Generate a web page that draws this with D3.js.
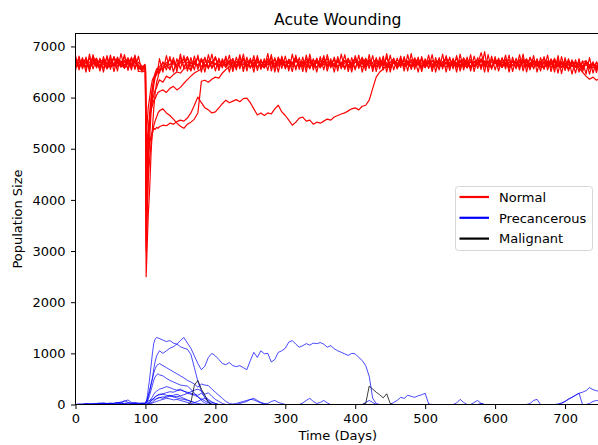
<!DOCTYPE html>
<html lang="en">
<head>
<meta charset="utf-8">
<title>Acute Wounding</title>
<script src="https://d3js.org/d3.v7.min.js"></script>
<style>
  body { margin: 0; background: #fff; }
  text { font-family: "DejaVu Sans", sans-serif; fill: #000; }
</style>
</head>
<body>
<script>
// sample days shared by every run (denser around the wound at day 100)
var days = [].concat(d3.range(0, 100, 5),
    [99, 100, 101, 102, 103, 104, 106, 108, 110, 112, 114, 116, 118],
    d3.range(120, 751, 5));

var xTicks = [0, 100, 200, 300, 400, 500, 600, 700];
var yTicks = [0, 1000, 2000, 3000, 4000, 5000, 6000, 7000];
var legendLabels = ["Normal", "Precancerous", "Malignant"];

// ---- Normal cells, one array per run
var normal1 = [
  6700,6620,6760,6580,6690,6750,6600,6710,6640,6780,6590,6680,6730,6610,6700,6650,6770,6600,6690,6620,
  6580,6560,2500,2900,3300,3700,4200,4900,5400,5800,6100,6300,6400,
  6560,6610,6690,6640,6720,6600,6680,6750,6620,6700,
  6650,6780,6600,6690,6730,6580,6660,6710,6620,6760,
  6640,6700,6590,6680,6740,6610,6690,6650,6770,6600,
  6710,6640,6690,6580,6730,6660,6620,6750,6680,6600,
  6700,6650,6760,6610,6680,6590,6720,6640,6700,6660,
  6740,6600,6680,6720,6630,6690,6580,6710,6650,6770,
  6620,6690,6740,6600,6700,6650,6580,6720,6680,6630,
  6760,6640,6700,6610,6690,6730,6600,6670,6720,6640,
  6580,6700,6650,6760,6620,6690,6710,6600,6680,6740,
  6630,6690,6600,6720,6660,6580,6700,6650,6760,6620,
  6680,6710,6600,6690,6740,6630,6670,6590,6720,6650,
  6700,6610,6680,6750,6620,6690,6640,6580,6710,6660,
  6600,6690,6720,6630,6680,6560,6640];

var normal2 = [
  6640,6760,6590,6700,6620,6800,6680,6560,6730,6650,6700,6610,6790,6640,6580,6720,6660,6810,6570,6540,
  6620,6600,3800,4200,4600,5000,5500,5900,6150,6350,6420,6500,6580,
  6600,6680,6630,6750,6660,6590,6720,6680,6800,6610,
  6690,6620,6740,6650,6580,6700,6760,6640,6690,6590,
  6720,6650,6610,6780,6680,6600,6730,6590,6680,6710,
  6640,6760,6600,6680,6620,6740,6700,6590,6650,6790,
  6610,6700,6640,6580,6730,6680,6620,6770,6600,6690,
  6650,6720,6590,6680,6760,6610,6700,6650,6600,6690,
  6730,6580,6660,6710,6620,6790,6640,6690,6600,6750,
  6650,6700,6580,6740,6630,6680,6590,6720,6660,6610,
  6700,6640,6780,6600,6690,6650,6730,6620,6690,6580,
  6710,6650,6740,6600,6690,6620,6700,6660,6590,6740,
  6630,6700,6660,6600,6680,6720,6590,6690,6650,6610,
  6580,6690,6640,6720,6600,6660,6570,6700,6620,6680,
  6640,6590,6700,6560,6650,6610,6680];

var normal3 = [
  6720,6600,6680,6740,6560,6690,6770,6620,6700,6580,6750,6640,6690,6720,6600,6780,6650,6700,6610,6580,
  6590,6570,4400,4700,5000,5300,5600,5800,5950,6050,6150,6200,6280,
  6350,6300,6420,6380,6450,6500,6480,6560,6600,6540,
  6680,6620,6750,6600,6700,6660,6790,6610,6690,6640,
  6720,6580,6700,6650,6760,6620,6680,6740,6600,6700,
  6630,6690,6780,6610,6670,6720,6590,6690,6650,6740,
  6600,6700,6640,6760,6620,6690,6580,6710,6680,6630,
  6750,6600,6690,6720,6640,6580,6700,6660,6790,6620,
  6680,6610,6730,6650,6700,6590,6690,6760,6620,6680,
  6710,6640,6600,6690,6750,6620,6680,6590,6720,6660,
  6630,6700,6760,6610,6680,6650,6590,6740,6690,6620,
  6700,6650,6880,6620,6720,6600,6690,6740,6640,6680,
  6590,6720,6660,6610,6700,6750,6620,6680,6640,6700,
  6760,6630,6690,6580,6700,6660,6620,6730,6600,6680,
  6640,6560,6700,6610,6660,6580,6690];

var normal4 = [
  6610,6700,6650,6770,6590,6680,6620,6740,6700,6560,6660,6790,6610,6700,6650,6580,6730,6690,6620,6560,
  6650,6620,4800,5000,5200,5400,5600,5750,5850,5950,5980,6050,6100,
  6120,6150,6100,6180,6220,6150,6200,6280,6350,6420,
  6480,6520,6560,6640,6600,6700,6660,6590,6720,6640,
  6690,6610,6700,6620,6760,6650,6600,6690,6730,6640,
  6580,6700,6660,6750,6620,6690,6600,6710,6650,6780,
  6630,6680,6590,6700,6640,6720,6610,6690,6760,6600,
  6670,6710,6640,6580,6700,6680,6750,6620,6690,6600,
  6730,6660,6610,6720,6650,6690,6580,6700,6640,6770,
  6620,6680,6700,6600,6690,6740,6630,6670,6590,6710,
  6650,6690,6760,6620,6680,6600,6700,6650,6720,6590,
  6690,6640,6710,6660,6600,6740,6680,6620,6700,6650,
  6580,6720,6690,6640,6760,6600,6680,6710,6630,6690,
  6580,6700,6650,6720,6610,6690,6640,6560,6680,6620,
  6700,6580,6640,6600,6670,6550,6620];

var normal5 = [
  6680,6740,6620,6700,6590,6760,6650,6600,6720,6680,6610,6790,6660,6700,6580,6740,6630,6690,6570,6600,
  6620,6590,4300,4500,4700,4900,5100,5250,5350,5450,5550,5620,5700,
  5740,5780,5700,5650,5580,5500,5440,5400,5480,5520,
  5580,5700,6320,6340,6300,6360,6400,6380,6480,6550,
  6600,6690,6640,6720,6580,6680,6740,6620,6700,6650,
  6590,6720,6660,6610,6780,6640,6700,6600,6690,6730,
  6650,6600,6710,6680,6620,6760,6590,6700,6640,6690,
  6620,6750,6660,6600,6700,6640,6780,6610,6690,6650,
  6720,6600,6680,6640,6750,6620,6690,6710,6580,6660,
  6640,6700,6620,6780,6650,6600,6690,6730,6640,6700,
  6680,6610,6700,6650,6740,6600,6720,6660,6580,6700,
  6620,6690,6750,6640,6600,6700,6660,6720,6590,6680,
  6740,6630,6690,6600,6710,6650,6580,6720,6680,6640,
  6600,6700,6660,6620,6740,6590,6680,6630,6690,6610,
  6580,6500,6420,6360,6400,6340,6380];

var normal6 = [
  6660,6590,6720,6680,6610,6750,6640,6700,6580,6690,6760,6620,6680,6600,6730,6650,6590,6710,6640,6550,
  6640,6610,3200,3600,4000,4400,4800,5100,5300,5400,5380,5420,5400,
  5430,5460,5450,5500,5480,5530,5560,5540,5600,5700,
  5850,6010,5900,5800,5760,5700,5720,5800,5880,5950,
  5900,5930,5960,5920,5980,5990,5900,5780,5660,5700,
  5650,5700,5680,5780,5850,5720,5650,5560,5460,5520,
  5600,5620,5540,5560,5480,5520,5500,5540,5580,5560,
  5620,5650,5680,5700,5740,5780,5800,5760,5830,5850,
  5950,6180,6400,6500,6560,6620,6580,6680,6620,6700,
  6650,6720,6600,6690,6640,6760,6620,6700,6580,6680,
  6740,6640,6690,6600,6710,6660,6620,6780,6650,6700,
  6600,6680,6730,6640,6700,6590,6760,6620,6690,6650,
  6700,6620,6680,6740,6600,6690,6650,6720,6610,6700,
  6650,6720,6590,6690,6640,6700,6620,6560,6680,6610,
  6650,6600,6690,6580,6640,6620,6560];

var normal7 = [
  6590,6680,6720,6600,6770,6650,6700,6620,6740,6580,6690,6650,6720,6600,6800,6670,6620,6750,6560,6600,
  6560,6540,5200,5400,5600,5800,6000,6200,6350,6400,6480,6560,6580,
  6520,6580,6620,6560,6700,6640,6780,6600,6690,6660,
  6720,6630,6700,6760,6600,6680,6650,6730,6620,6700,
  6680,6760,6610,6700,6640,6720,6590,6690,6750,6620,
  6700,6640,6720,6600,6690,6750,6630,6680,6600,6710,
  6660,6620,6690,6740,6600,6700,6650,6780,6620,6680,
  6600,6700,6650,6720,6590,6690,6760,6640,6700,6620,
  6740,6660,6600,6700,6640,6780,6620,6690,6650,6720,
  6600,6690,6740,6640,6700,6580,6720,6660,6610,6690,
  6720,6640,6600,6690,6650,6760,6620,6700,6640,6590,
  6680,6740,6620,6700,6650,6610,6720,6690,6600,6750,
  6640,6700,6580,6720,6660,6620,6780,6640,6690,6600,
  6700,6650,6740,6620,6680,6600,6720,6650,6700,6590,
  6660,6620,6700,6640,6580,6680,6620];

var normal8 = [
  6820,6540,6780,6500,6850,6560,6760,6520,6800,6580,6830,6510,6770,6600,6840,6530,6790,6550,6810,6500,
  6520,6500,3000,3500,4000,4600,5200,5700,6000,6250,6400,6450,6520,
  6480,6700,6540,6800,6500,6760,6560,6820,6520,6780,
  6540,6830,6500,6790,6560,6850,6520,6770,6580,6810,
  6500,6760,6540,6840,6510,6790,6570,6820,6530,6750,
  6580,6860,6520,6780,6500,6810,6560,6740,6510,6830,
  6550,6790,6500,6850,6540,6770,6590,6820,6520,6760,
  6500,6800,6560,6840,6510,6780,6540,6830,6500,6750,
  6570,6820,6510,6790,6540,6860,6500,6770,6560,6810,
  6520,6840,6550,6760,6500,6800,6580,6830,6510,6780,
  6540,6850,6500,6790,6560,6820,6520,6760,6580,6840,
  6510,6780,6550,6900,6500,6810,6540,6770,6590,6830,
  6500,6790,6560,6840,6520,6760,6540,6820,6500,6780,
  6550,6830,6510,6770,6480,6800,6530,6760,6460,6740,
  6500,6720,6460,6780,6480,6700,6520];

var normal9 = [
  6530,6810,6560,6790,6510,6840,6580,6770,6500,6820,6550,6800,6520,6860,6570,6760,6540,6830,6510,6520,
  6560,6530,4000,4400,4800,5200,5700,6000,6200,6350,6450,6480,6560,
  6760,6500,6820,6540,6780,6510,6850,6560,6790,6520,
  6810,6550,6770,6500,6840,6570,6800,6530,6760,6590,
  6830,6510,6790,6560,6850,6520,6770,6500,6820,6550,
  6760,6530,6840,6500,6790,6570,6810,6520,6850,6540,
  6780,6510,6830,6560,6760,6500,6800,6540,6840,6580,
  6790,6520,6850,6550,6770,6500,6820,6570,6760,6530,
  6840,6510,6780,6560,6810,6500,6830,6540,6770,6590,
  6800,6520,6860,6550,6790,6510,6760,6570,6840,6500,
  6780,6560,6820,6530,6770,6500,6850,6540,6790,6520,
  6810,6570,6760,6500,6840,6550,6800,6520,6780,6560,
  6830,6510,6770,6540,6850,6500,6790,6560,6760,6520,
  6800,6540,6760,6500,6820,6470,6780,6520,6740,6480,
  6760,6500,6720,6460,6700,6490,6740];

// ---- Precancerous cells
var precancerous1 = [
  0,0,5,10,0,15,20,10,30,20,15,25,40,30,20,35,25,40,30,20,
  30,40,60,90,130,180,280,400,520,700,850,950,1000,
  1050,1000,1050,1100,1130,1180,1250,1310,1200,1100,
  950,800,680,750,920,1000,950,880,800,780,
  820,760,740,760,720,680,860,1020,920,1050,
  990,1000,830,880,1020,1050,1100,1220,1250,1180,
  1120,1150,1190,1160,1200,1190,1210,1180,1120,1150,
  1090,1050,1020,990,960,1000,990,920,860,760,
  550,120,20,0,0,0,0,0,0,0,
  0,0,0,0,0,0,0,0,0,0,
  0,0,0,0,0,0,0,0,0,0,
  0,0,0,0,0,0,0,0,0,0,
  0,0,0,0,0,0,0,0,0,0,
  0,0,0,0,0,0,0,0,0,0,
  0,0,0,0,0,0,0];

var precancerous2 = [
  0,0,0,10,5,0,0,15,0,10,20,0,10,0,20,15,0,25,10,30,
  20,30,50,100,180,300,500,750,1000,1200,1280,1310,1300,
  1290,1260,1230,1250,1200,1180,1130,1100,1080,980,
  720,450,260,130,50,10,0,0,0,0,
  0,0,0,0,0,0,0,0,0,0,
  0,0,0,0,0,0,0,0,0,0,
  0,0,0,0,0,0,0,0,0,0,
  0,0,0,0,0,0,0,0,0,0,
  0,0,0,0,0,0,0,0,0,0,
  0,0,0,0,0,0,0,0,0,0,
  0,0,0,0,0,0,0,0,0,0,
  0,0,0,0,0,0,0,0,0,0,
  0,0,0,0,0,0,0,0,0,0,
  0,0,0,0,0,0,0,0,0,0,
  0,0,0,0,0,0,0];

var precancerous3 = [
  0,10,0,0,15,0,5,0,20,10,0,0,15,30,10,0,20,0,10,15,
  10,20,30,50,90,150,250,380,500,620,700,760,780,
  800,760,720,680,640,600,560,520,470,440,
  400,340,400,380,370,300,240,180,120,60,
  20,0,0,0,0,0,0,0,0,0,
  0,0,0,0,0,0,0,0,0,0,
  0,0,0,0,0,0,0,0,0,0,
  0,0,0,0,0,0,0,0,0,0,
  0,0,0,0,0,0,0,0,0,0,
  0,0,0,0,0,0,0,0,0,0,
  0,0,0,0,0,0,0,0,0,0,
  0,0,0,0,0,0,0,0,0,0,
  0,0,0,0,0,0,0,0,0,0,
  0,0,0,0,0,0,0,0,0,0,
  0,0,0,0,0,0,0];

var precancerous4 = [
  0,0,0,0,0,5,0,0,10,0,0,0,0,10,0,0,0,5,0,0,
  0,10,20,30,60,100,180,280,380,480,540,580,600,
  580,560,510,470,440,410,380,370,360,300,
  220,150,80,30,0,0,0,0,0,0,
  0,0,0,0,0,0,0,0,0,0,
  0,0,0,0,0,0,0,0,0,0,
  0,0,0,0,0,0,0,0,0,0,
  0,0,0,0,0,0,0,0,0,0,
  0,0,0,0,0,0,0,0,0,0,
  0,0,0,0,0,0,0,0,0,0,
  0,0,0,0,0,0,0,0,0,0,
  0,0,0,0,0,0,0,0,0,0,
  0,0,0,0,0,0,0,0,0,0,
  0,0,0,0,0,0,0,0,0,0,
  0,0,0,0,0,0,0];

var precancerous5 = [
  0,0,0,0,0,0,0,0,0,0,0,0,0,0,0,0,0,0,0,0,
  0,0,5,10,20,40,70,110,150,200,240,260,280,
  300,320,350,330,300,280,300,260,240,220,
  200,180,220,160,100,50,20,0,0,0,
  0,10,20,40,60,80,100,90,60,30,
  10,0,0,0,0,0,0,0,0,0,
  0,0,0,0,0,0,0,0,0,0,
  0,0,0,0,0,0,0,0,0,0,
  0,0,0,0,0,0,0,0,0,0,
  0,0,0,0,0,0,0,0,0,0,
  0,0,0,0,0,0,0,0,0,0,
  0,0,0,0,0,0,0,0,0,0,
  0,0,0,0,0,0,0,0,0,0,
  0,0,0,0,0,0,0,0,0,0,
  0,0,0,0,0,0,0];

var precancerous6 = [
  0,0,0,0,0,0,0,0,0,0,0,0,0,0,0,0,0,0,0,0,
  0,0,0,5,10,20,40,60,90,120,150,170,190,
  200,210,230,250,240,270,280,260,220,200,
  180,150,110,70,30,0,0,0,0,0,
  0,0,0,0,0,0,0,0,0,0,
  0,0,0,0,0,0,0,0,0,0,
  0,0,0,0,0,0,0,0,0,0,
  0,0,0,0,0,0,0,0,0,0,
  0,0,0,0,0,0,0,40,80,140,
  120,180,160,140,170,190,220,10,0,0,
  0,0,0,0,0,0,0,0,0,0,
  0,0,0,0,0,0,0,0,0,0,
  0,0,0,0,0,0,0,0,0,0,
  0,0,0,0,0,0,0,0,0,0,
  0,0,0,0,0,0,0];

var precancerous7 = [
  0,0,0,0,0,5,10,15,10,20,30,20,40,20,80,40,20,10,5,0,
  0,0,0,5,10,20,40,70,100,130,150,170,180,
  190,200,180,170,150,160,150,120,90,60,
  40,20,10,0,0,0,0,0,0,0,
  0,0,0,0,0,0,0,0,0,0,
  0,20,60,80,40,20,0,0,0,0,
  0,30,80,120,60,20,40,80,30,0,
  0,0,0,0,0,0,0,0,0,0,
  0,0,0,0,0,0,0,0,0,0,
  0,0,0,0,0,0,0,0,0,0,
  0,0,0,0,0,0,0,0,0,0,
  0,0,0,0,0,0,0,0,0,0,
  0,0,0,0,0,0,0,0,0,0,
  0,0,0,0,0,0,0,0,0,0,
  0,0,0,0,0,0,0];

var precancerous8 = [
  0,0,0,0,0,0,0,0,0,0,0,0,0,0,0,0,0,0,0,0,
  0,0,0,0,5,10,20,30,50,70,90,110,120,
  130,150,140,160,180,200,170,190,220,250,
  280,300,260,200,230,160,100,60,20,0,
  0,0,0,0,0,0,0,0,0,0,
  0,0,0,0,0,0,0,0,0,0,
  0,0,0,0,0,0,0,0,0,0,
  0,0,0,0,0,0,0,0,0,0,
  0,0,0,0,0,0,0,0,0,0,
  0,0,0,0,0,0,0,0,0,0,
  0,0,0,0,0,30,100,40,0,0,
  40,80,20,0,0,0,0,0,0,0,
  0,0,0,0,0,0,20,80,100,0,
  0,0,0,0,10,30,60,110,140,180,
  220,240,270,330,290,270,250];

var precancerous9 = [
  0,0,0,0,0,0,0,0,0,0,0,0,0,0,0,0,0,0,0,0,
  0,0,0,0,0,5,10,20,30,40,50,60,70,
  80,100,120,110,90,100,80,60,40,20,
  10,0,0,0,0,0,0,0,0,0,
  0,0,0,0,0,0,0,0,0,0,
  0,0,0,0,0,0,0,0,0,0,
  0,0,0,0,0,0,0,0,0,0,
  0,0,0,0,0,0,0,0,0,0,
  0,0,0,0,0,0,0,0,0,0,
  0,0,0,0,0,0,0,0,0,0,
  0,0,0,0,0,0,0,0,0,0,
  0,0,0,0,0,0,0,0,0,0,
  0,0,0,0,0,0,0,0,0,0,
  0,0,0,0,0,20,60,100,140,180,
  220,0,0,20,60,80,60];

var precancerous10 = [
  0,5,10,20,15,10,20,30,25,15,10,20,30,50,60,90,40,20,10,20,
  20,30,40,50,60,70,80,90,100,110,100,120,130,
  140,120,160,180,150,130,110,100,80,60,
  40,60,100,120,80,40,20,0,0,0,
  0,0,0,20,40,60,100,120,80,40,
  20,0,0,0,0,0,0,0,0,0,
  0,0,0,0,0,0,0,0,0,0,
  0,0,0,0,0,0,0,0,0,40,
  80,40,0,0,0,0,0,0,0,0,
  0,0,0,0,0,0,0,0,0,0,
  0,0,0,0,0,0,0,0,0,0,
  0,0,20,0,0,0,0,0,0,0,
  0,0,0,0,0,0,0,0,0,0,
  0,0,0,0,0,0,0,0,0,0,
  0,0,0,0,0,0,0];

// ---- Malignant cells
var malignant1 = [
  0,0,0,0,0,0,0,0,0,0,0,0,0,0,0,0,0,0,0,0,
  0,0,0,0,0,0,0,0,0,0,0,0,0,
  0,0,0,0,0,0,0,0,0,40,
  380,470,300,180,40,0,0,0,0,0,
  0,0,0,0,0,0,0,0,0,0,
  0,0,0,0,0,0,0,0,0,0,
  0,0,0,0,0,0,0,0,0,0,
  0,0,0,0,0,0,0,0,0,0,
  0,0,0,0,0,0,0,0,0,0,
  0,0,0,0,0,0,0,0,0,0,
  0,0,0,0,0,0,0,0,0,0,
  0,0,0,0,0,0,0,0,0,0,
  0,0,0,0,0,0,0,0,0,0,
  0,0,0,0,0,0,0,0,0,0,
  0,0,0,0,0,0,0];

var malignant2 = [
  0,0,0,0,0,0,0,0,0,0,0,0,0,0,0,0,0,0,0,0,
  0,0,0,0,0,0,0,0,0,0,0,0,0,
  0,0,0,0,0,0,0,0,0,0,
  0,0,0,0,0,0,0,0,0,0,
  0,0,0,0,0,0,0,0,0,0,
  0,0,0,0,0,0,0,0,0,0,
  0,0,0,0,0,0,0,0,0,0,
  0,0,0,0,0,0,0,0,0,20,
  360,300,240,190,130,210,20,0,0,0,
  0,0,0,0,0,0,0,0,0,0,
  0,0,0,0,0,0,0,0,0,0,
  0,0,0,0,0,0,0,0,0,0,
  0,0,0,0,0,0,0,0,0,0,
  0,0,0,0,0,0,0,0,0,0,
  0,0,0,0,0,0,0];

var normalRuns = [normal1, normal2, normal3, normal4, normal5, normal6, normal7, normal8, normal9];
var precancerousRuns = [precancerous1, precancerous2, precancerous3, precancerous4, precancerous5,
                        precancerous6, precancerous7, precancerous8, precancerous9, precancerous10];
var malignantRuns = [malignant1, malignant2];

normalRuns.concat(precancerousRuns, malignantRuns).forEach(function (run, i) {
    if (run.length !== days.length) throw new Error("run " + i + " has " + run.length + " values, expected " + days.length);
});

// ---- layout
var width = 598, height = 445;
var plot = { left: 75.5, right: 600, top: 33.5, bottom: 404.5 };

var svg = d3.select("body").append("svg")
    .attr("width", width)
    .attr("height", height);

var xScale = d3.scaleLinear().domain([0, 750]).range([plot.left, plot.right]);
var yScale = d3.scaleLinear().domain([0, 7253]).range([plot.bottom, plot.top]);

svg.append("clipPath").attr("id", "plotClip")
  .append("rect")
    .attr("x", plot.left).attr("y", plot.top - 2)
    .attr("width", plot.right - plot.left).attr("height", plot.bottom - plot.top + 2);

var line = d3.line()
    .x(function (d, i) { return xScale(days[i]); })
    .y(function (d) { return yScale(d); });

var lines = svg.append("g").attr("clip-path", "url(#plotClip)");

function drawRuns(runs, color, lw, opacity) {
    lines.append("g").selectAll("path")
        .data(runs)
        .enter().append("path")
        .attr("d", line)
        .attr("fill", "none")
        .attr("stroke", color)
        .attr("stroke-width", lw)
        .attr("stroke-opacity", opacity)
        .attr("stroke-linejoin", "round");
}

drawRuns(normalRuns, "#ff0000", 1.2, 1);
drawRuns(precancerousRuns, "#0000ff", 0.9, 0.8);
drawRuns(malignantRuns, "#000000", 0.9, 0.85);

// ---- axes
var xAxis = d3.axisBottom(xScale).tickValues(xTicks).tickSize(4.5).tickPadding(4.5).tickSizeOuter(0);
var yAxis = d3.axisLeft(yScale).tickValues(yTicks).tickFormat(d3.format("d"))
    .tickSize(4.5).tickPadding(5.5).tickSizeOuter(0);

var gx = svg.append("g").attr("transform", "translate(0," + plot.bottom + ")").call(xAxis);
var gy = svg.append("g").attr("transform", "translate(" + plot.left + ",0)").call(yAxis);

[gx, gy].forEach(function (g) {
    g.select(".domain").remove();
    g.selectAll("line").attr("stroke", "#000").attr("stroke-width", 1);
    g.selectAll("text").attr("font-size", 13).attr("font-family", "DejaVu Sans, sans-serif").attr("fill", "#000");
});

// spines
svg.append("rect")
    .attr("x", plot.left).attr("y", plot.top)
    .attr("width", plot.right - plot.left).attr("height", plot.bottom - plot.top)
    .attr("fill", "none").attr("stroke", "#000").attr("stroke-width", 1);

// ---- titles
svg.append("text")
    .attr("x", (plot.left + plot.right) / 2).attr("y", 25)
    .attr("text-anchor", "middle")
    .attr("font-size", 15.6)
    .text("Acute Wounding");

svg.append("text")
    .attr("x", (plot.left + plot.right) / 2).attr("y", 440)
    .attr("text-anchor", "middle")
    .attr("font-size", 13)
    .text("Time (Days)");

svg.append("text")
    .attr("transform", "translate(22," + (plot.top + plot.bottom) / 2 + ") rotate(-90)")
    .attr("text-anchor", "middle")
    .attr("font-size", 13)
    .text("Population Size");

// ---- legend
var legendColors = ["#ff0000", "#0000ff", "#000000"];
var legend = svg.append("g").attr("transform", "translate(455.5,186.5)");

legend.append("rect")
    .attr("width", 137).attr("height", 64).attr("rx", 3)
    .attr("fill", "#fff").attr("fill-opacity", 0.8)
    .attr("stroke", "#d6d6d6").attr("stroke-width", 1);

var items = legend.selectAll(".item")
    .data(legendLabels)
    .enter().append("g")
    .attr("transform", function (d, i) { return "translate(0," + (10.5 + i * 20.8) + ")"; });

items.append("line")
    .attr("x1", 4).attr("x2", 33.5)
    .attr("stroke", function (d, i) { return legendColors[i]; })
    .attr("stroke-width", 2.2);

items.append("text")
    .attr("x", 43.5).attr("y", 4.8)
    .attr("font-size", 13)
    .text(function (d) { return d; });
</script>
</body>
</html>
